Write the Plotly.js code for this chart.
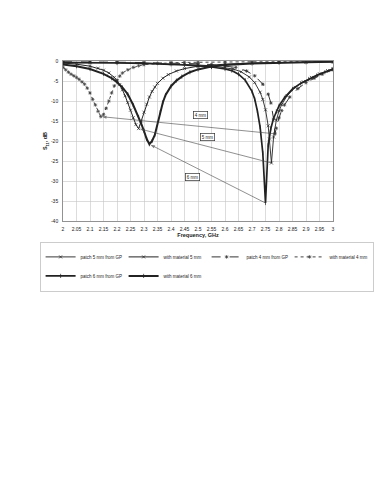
<!DOCTYPE html>
<html>
<head>
<meta charset="utf-8">
<script src="https://cdn.plot.ly/plotly-3.0.1.min.js"></script>
<style>html,body{margin:0;padding:0;background:#fff;}#chart{width:374px;height:484px;}</style>
</head>
<body>
<div id="chart"></div>
<script>
// ---- data ----
const seriesNames = ["patch 5 mm from GP", "with material 5 mm", "patch 4 mm from GP",
                     "with material 4 mm", "patch 6 mm from GP", "with material 6 mm"];

const fPatch5 = [2.00,2.10,2.20,2.30,2.40,2.45,2.50,2.55,2.60,2.63,2.66,2.69,2.71,2.73,2.74,2.75,2.76,2.765,2.772,2.78,2.79,2.80,2.81,2.83,2.86,2.89,2.92,2.95,2.98,3.00];
const sPatch5 = [-0.3,-0.3,-0.4,-0.5,-0.7,-0.8,-1.0,-1.2,-1.6,-2.0,-2.7,-4.0,-5.4,-7.8,-9.6,-12.2,-16.2,-19.5,-25.5,-19.0,-14.8,-12.5,-10.9,-8.7,-6.6,-5.2,-4.1,-3.2,-2.4,-1.9];

const fMat5 = [2.00,2.05,2.10,2.13,2.15,2.17,2.19,2.20,2.21,2.22,2.23,2.24,2.25,2.26,2.27,2.28,2.29,2.30,2.31,2.32,2.33,2.34,2.35,2.37,2.39,2.42,2.45,2.50,2.60,2.70,2.80,2.90,3.00];
const sMat5 = [-0.5,-0.8,-1.3,-1.8,-2.3,-3.0,-4.1,-4.9,-5.9,-7.2,-8.7,-10.4,-12.3,-14.2,-15.9,-16.9,-15.0,-12.8,-10.8,-9.0,-7.6,-6.5,-5.6,-4.3,-3.4,-2.5,-1.9,-1.3,-0.8,-0.5,-0.35,-0.25,-0.2];

const fPatch4 = [2.00,2.10,2.20,2.30,2.40,2.50,2.55,2.60,2.64,2.68,2.71,2.74,2.76,2.77,2.78,2.785,2.79,2.80,2.81,2.82,2.84,2.87,2.90,2.93,2.96,3.00];
const sPatch4 = [-0.2,-0.2,-0.3,-0.4,-0.5,-0.7,-0.9,-1.2,-1.6,-2.5,-3.7,-5.8,-8.3,-10.5,-14.5,-18.2,-16.8,-14.2,-12.4,-11.0,-9.0,-6.9,-5.4,-4.3,-3.3,-2.2];

const fMat4 = [2.00,2.01,2.02,2.03,2.04,2.05,2.06,2.07,2.08,2.09,2.10,2.11,2.12,2.13,2.14,2.15,2.16,2.17,2.18,2.19,2.20,2.21,2.22,2.24,2.26,2.28,2.30,2.35,2.40,2.45,2.50,2.60,2.70,2.80,2.90,3.00];
const sMat4 = [-1.6,-2.2,-2.8,-3.3,-3.7,-4.1,-4.6,-5.2,-5.8,-6.8,-8.0,-9.6,-11.0,-12.6,-13.9,-13.4,-11.8,-10.0,-8.0,-6.2,-4.8,-3.8,-3.0,-2.2,-1.6,-1.2,-0.9,-0.6,-0.45,-0.35,-0.3,-0.25,-0.2,-0.2,-0.15,-0.15];

const fPatch6 = [2.00,2.10,2.20,2.30,2.40,2.45,2.50,2.55,2.60,2.625,2.65,2.675,2.70,2.71,2.72,2.73,2.74,2.75,2.76,2.77,2.78,2.79,2.80,2.82,2.85,2.88,2.91,2.94,2.97,3.00];
const sPatch6 = [-0.4,-0.4,-0.5,-0.6,-0.8,-1.0,-1.2,-1.5,-2.0,-2.4,-3.3,-4.8,-7.6,-9.5,-12.5,-16.5,-23.0,-35.5,-21.0,-16.8,-14.3,-12.6,-11.2,-9.2,-7.0,-5.6,-4.5,-3.6,-2.8,-2.0];

const fMat6 = [2.00,2.05,2.10,2.15,2.18,2.20,2.22,2.24,2.26,2.28,2.29,2.30,2.31,2.32,2.33,2.34,2.35,2.36,2.37,2.38,2.40,2.42,2.44,2.47,2.50,2.55,2.60,2.70,2.80,2.90,3.00];
const sMat6 = [-0.9,-1.3,-2.0,-3.2,-4.3,-5.3,-6.6,-8.3,-11.0,-14.0,-15.7,-17.5,-19.5,-20.8,-20.0,-18.5,-15.5,-12.8,-10.3,-8.5,-6.3,-4.9,-3.9,-2.8,-2.1,-1.4,-1.0,-0.6,-0.4,-0.3,-0.2];

const xTickVals = [2,2.05,2.1,2.15,2.2,2.25,2.3,2.35,2.4,2.45,2.5,2.55,2.6,2.65,2.7,2.75,2.8,2.85,2.9,2.95,3];
const xTickText = ["2","2.05","2.1","2.15","2.2","2.25","2.3","2.35","2.4","2.45","2.5","2.55","2.6","2.65","2.7","2.75","2.8","2.85","2.9","2.95","3"];
const yTickVals = [0,-5,-10,-15,-20,-25,-30,-35,-40];
const yTickText = ["0","-5","-10","-15","-20","-25","-30","-35","-40"];

const pairLabels = ["4 mm", "5 mm", "6 mm"];

// ---- traces ----
const FONT = "Liberation Sans, Arial, sans-serif";
function tr(x, y, name, color, width, dash, symbol, msize) {
  return {
    type: "scatter", mode: "lines+markers", x: x, y: y, name: name,
    line: {color: color, width: width, dash: dash},
    marker: {symbol: symbol, size: msize, color: color, line: {color: color, width: 0.7}}
  };
}
const traces = [
  tr(fPatch5, sPatch5, seriesNames[0], "#222", 0.9, "solid", "x-thin-open", 3),
  tr(fMat5,   sMat5,   seriesNames[1], "#222", 1.0, "solid", "x-thin-open", 3),
  tr(fPatch4, sPatch4, seriesNames[2], "#333", 1.0, "dash",  "asterisk-open", 3),
  tr(fMat4,   sMat4,   seriesNames[3], "#444", 1.0, "dot",   "asterisk-open", 3),
  tr(fPatch6, sPatch6, seriesNames[4], "#222", 1.7, "solid", "line-ns-open", 3),
  tr(fMat6,   sMat6,   seriesNames[5], "#222", 2.0, "solid", "line-ns-open", 3)
];

// connector arrows between the two dips of each pair, computed from the data
function dip(x, y) { let k = 0; for (let i = 1; i < y.length; i++) if (y[i] < y[k]) k = i; return [x[k], y[k]]; }
const pairs = [[fMat4, sMat4, fPatch4, sPatch4], [fMat5, sMat5, fPatch5, sPatch5], [fMat6, sMat6, fPatch6, sPatch6]];
pairs.forEach(p => {
  const a = dip(p[0], p[1]), b = dip(p[2], p[3]);
  traces.push({
    type: "scatter", mode: "lines+markers", x: [b[0], a[0]], y: [b[1], a[1]],
    showlegend: false, hoverinfo: "skip",
    line: {color: "#444", width: 0.6},
    marker: {symbol: ["circle", "arrow"], size: [0, 5], angleref: "previous", color: "#444",
             standoff: 1, line: {width: 0}}
  });
});

const annotations = [];
const labelPos = [[2.511, -13.6], [2.535, -19.0], [2.478, -29.1]];
pairLabels.forEach((t, i) => {
  annotations.push({x: labelPos[i][0], y: labelPos[i][1], xref: "x", yref: "y", text: t, showarrow: false,
    font: {family: FONT, size: 4.5, color: "#222"}, bgcolor: "#fff", bordercolor: "#333", borderwidth: 0.7, borderpad: 1});
});

const layout = {
  width: 374, height: 484,
  margin: {l: 63, r: 41, t: 61, b: 263, pad: 0},
  paper_bgcolor: "#fff", plot_bgcolor: "#fff",
  font: {family: FONT, size: 5, color: "#222"},
  showlegend: true,
  xaxis: {
    range: [2, 3], tickmode: "array", tickvals: xTickVals, ticktext: xTickText,
    showgrid: true, gridcolor: "#c4c4c4", gridwidth: 0.6, zeroline: false,
    showline: true, linecolor: "#777", linewidth: 0.8, mirror: true, ticks: "",
    tickfont: {size: 5, family: FONT}, ticklabelstandoff: 3,
    title: {text: "<b>Frequency, GHz</b>", font: {size: 5.5, family: FONT}, standoff: 2}
  },
  yaxis: {
    range: [-40, 0], tickmode: "array", tickvals: yTickVals, ticktext: yTickText,
    showgrid: true, gridcolor: "#c4c4c4", gridwidth: 0.6, zeroline: false,
    showline: true, linecolor: "#777", linewidth: 0.8, mirror: true, ticks: "",
    tickfont: {size: 5, family: FONT}, ticklabelstandoff: 3,
    title: {text: "<b>S<sub>11</sub>, dB</b>", font: {size: 5.5, family: FONT}, standoff: 2}
  },
  legend: {
    orientation: "h", x: -0.08, xanchor: "left", y: -0.13, yanchor: "top",
    bgcolor: "#fff", bordercolor: "#aaa", borderwidth: 0.6,
    font: {size: 4.5, family: FONT, color: "#222"}, itemwidth: 30,
    entrywidth: 38, entrywidthmode: "pixels", tracegroupgap: 0
  },
  annotations: annotations
};

Plotly.newPlot("chart", traces, layout, {staticPlot: true, displayModeBar: false});
</script>
</body>
</html>
